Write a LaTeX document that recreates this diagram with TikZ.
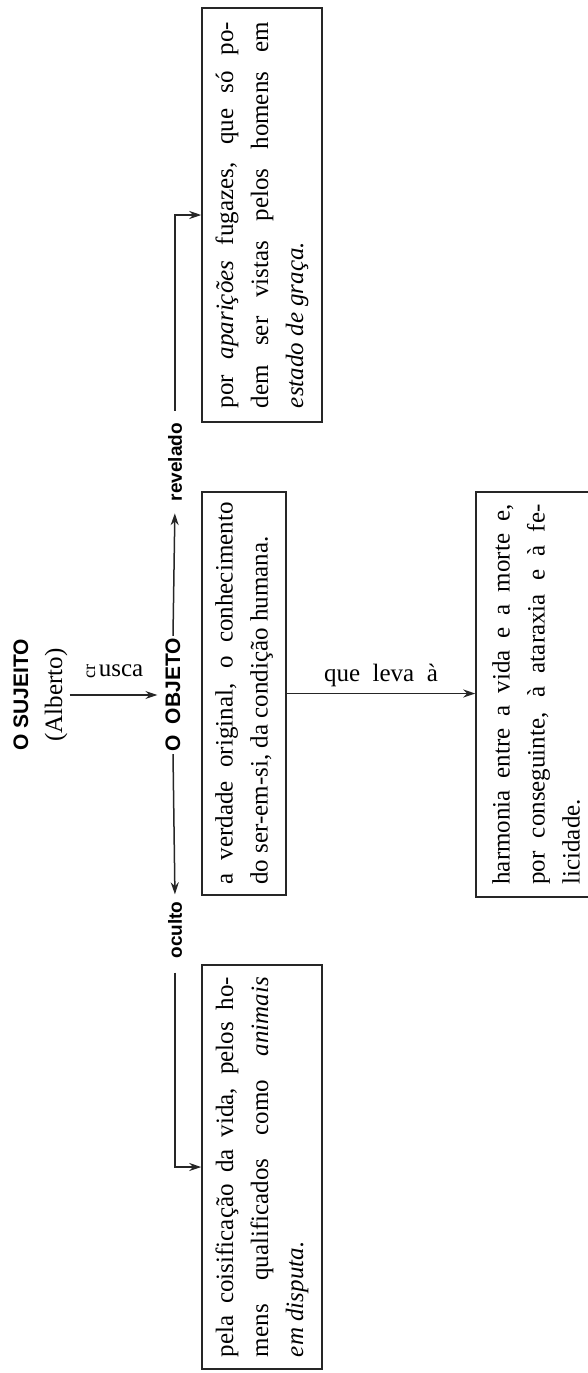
\documentclass[tikz,border=0pt]{standalone}
\usepackage{fontspec}
\setmainfont{Liberation Serif}
\setsansfont{Liberation Sans}
\usetikzlibrary{arrows.meta}
\tolerance=9999
\hyphenpenalty=10000
\tikzset{
    box/.style =      {rectangle,
                      draw=black!85,
                      line width=1.5pt,
                      rotate=90,
                      inner sep=0pt,
                      align=justify,
                      font=\fontsize{25}{35}\selectfont},
    bigtag/.style =   {rotate=90,
                      inner sep=2pt,
                      font=\fontsize{21}{24}\sffamily\bfseries\selectfont},
    tag/.style =      {rotate=90,
                      inner sep=2pt,
                      font=\fontsize{19}{22}\sffamily\bfseries\selectfont},
    serif/.style =    {inner sep=2pt,
                      font=\fontsize{25}{30}\selectfont},
    link/.style =     {line width=1.5pt,
                      draw=black!85},
    -,
    >={Stealth[length=12pt,width=8pt]}}
\begin{document}
\begin{tikzpicture}[x=1pt,y=1pt]
    \useasboundingbox (0,0) rectangle (588,-1373);
    % o sujeito
    \node[bigtag]            (sujeito) at (21,-695)  {O SUJEITO};
    \node[serif,rotate=90]   (alberto) at (56,-695)  {(Alberto)};
    \node[serif,rotate=90,font=\fontsize{18}{20}\selectfont]
                             (cr)      at (91,-671)  {cr};
    \node[serif]             (usca)    at (121,-671) {usca};
    % o objeto
    \node[bigtag]            (objlbl)  at (173,-695) {O~~OBJETO};
    \node[tag]               (revlbl)  at (175,-462) {revelado};
    \node[tag]               (oculbl)  at (175,-930) {oculto};
    % caixas
    \node[box, minimum width=414, minimum height=120, text width=386]
        (revbox) at (262,-215)
        {por \textit{aparições} fugazes, que só po-\linebreak dem ser vistas pelos homens em\linebreak \textit{estado de graça.}};
    \node[box, minimum width=403, minimum height=84, text width=382]
        (objbox) at (244,-693.5)
        {a verdade original, o conhecimento\linebreak do ser-em-si, da condição humana.};
    \node[box, minimum width=405, minimum height=120, text width=380]
        (harmbox) at (536,-694.5)
        {harmonia entre a vida e a morte e,\linebreak por conseguinte, à ataraxia e à fe-\linebreak licidade.};
    \node[box, minimum width=404, minimum height=120, text width=380]
        (ocubox) at (262,-1167)
        {pela coisificação da vida, pelos ho-\linebreak mens qualificados como \textit{animais}\linebreak \textit{em disputa.}};
    % setas
    \draw[link,->,shorten >=6pt]  (alberto.south) -- (objlbl.north);
    \draw[link,->,shorten >=10pt] (objlbl.east) -- (revlbl.west);
    \draw[link,->,shorten <=10pt] (revlbl.east) |- (revbox.north);
    \draw[link,->,shorten >=5pt]  (objlbl.west) -- (oculbl.east);
    \draw[link,->,shorten <=12pt] (oculbl.west) |- (ocubox.north);
    \draw[link,->] (objbox.south) -- (objbox.south -| harmbox.north)
        node[serif,midway,above=4pt] (leva) {que~~leva~~à};
\end{tikzpicture}
\end{document}
